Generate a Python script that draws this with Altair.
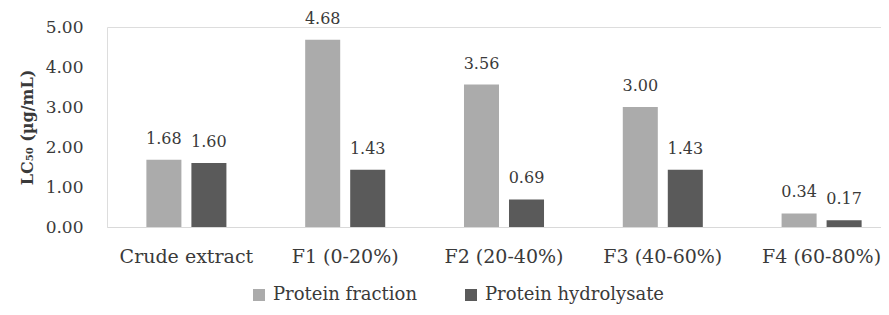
import altair as alt
import pandas as pd

categories = ["Crude extract", "F1 (0-20%)", "F2 (20-40%)", "F3 (40-60%)", "F4 (60-80%)"]
series = ["Protein fraction", "Protein hydrolysate"]
protein_fraction = [1.68, 4.68, 3.56, 3.00, 0.34]
protein_hydrolysate = [1.60, 1.43, 0.69, 1.43, 0.17]
y_ticks = [0, 1, 2, 3, 4, 5]
colors = ["#ababab", "#5a5a5a"]

rows = []
for c, a, b in zip(categories, protein_fraction, protein_hydrolysate):
    rows.append({"category": c, "series": series[0], "value": a})
    rows.append({"category": c, "series": series[1], "value": b})
df = pd.DataFrame(rows)

FONT = "DejaVu Serif"
TXT = "#3a3a3a"

x = alt.X("category:N", sort=categories, title=None,
          scale=alt.Scale(range=[0, 794], paddingInner=0.496, paddingOuter=0.248),
          axis=alt.Axis(labelAngle=0, ticks=False, tickSize=0, labelPadding=20,
                        labelFontSize=19, labelFont=FONT, labelColor=TXT,
                        domainColor="#d9d9d9", domainWidth=1.2))
xo = alt.XOffset("series:N", sort=series,
                 scale=alt.Scale(paddingInner=0.222, paddingOuter=0))
y = alt.Y("value:Q",
          scale=alt.Scale(domain=[0, 5], nice=False),
          axis=alt.Axis(values=y_ticks, format=".2f", ticks=False, tickSize=0,
                        domain=False, grid=False, labelPadding=24,
                        labelFontSize=17, labelFont=FONT, labelColor=TXT,
                        title="LC₅₀ (µg/mL)", titleFont=FONT, titleFontSize=16,
                        titleFontWeight="bold", titleColor=TXT, titlePadding=10))

bars = alt.Chart(df).mark_bar().encode(
    x=x, xOffset=xo, y=y,
    color=alt.Color("series:N", sort=series,
                    scale=alt.Scale(domain=series, range=colors),
                    legend=alt.Legend(orient="none", legendX=143, legendY=259,
                                      direction="horizontal", title=None,
                                      symbolType="square", symbolSize=144,
                                      symbolStrokeWidth=0, labelOffset=5,
                                      columnPadding=44, labelLimit=0,
                                      labelFontSize=18, labelFont=FONT,
                                      labelColor=TXT)),
)

labels = alt.Chart(df).mark_text(baseline="alphabetic", dy=-16, fontSize=16,
                                 font=FONT, color=TXT).encode(
    x=x, xOffset=xo, y=y,
    text=alt.Text("value:Q", format=".2f"),
)

chart = alt.layer(bars, labels).properties(
    width=774, height=200,
    autosize=alt.AutoSizeParams(type="none"),
    padding={"left": 99, "top": 19, "right": 0, "bottom": 80},
).configure_view(stroke=None).configure(background="white")

chart.save("out.html", embed_options={"renderer": "svg", "actions": False})
